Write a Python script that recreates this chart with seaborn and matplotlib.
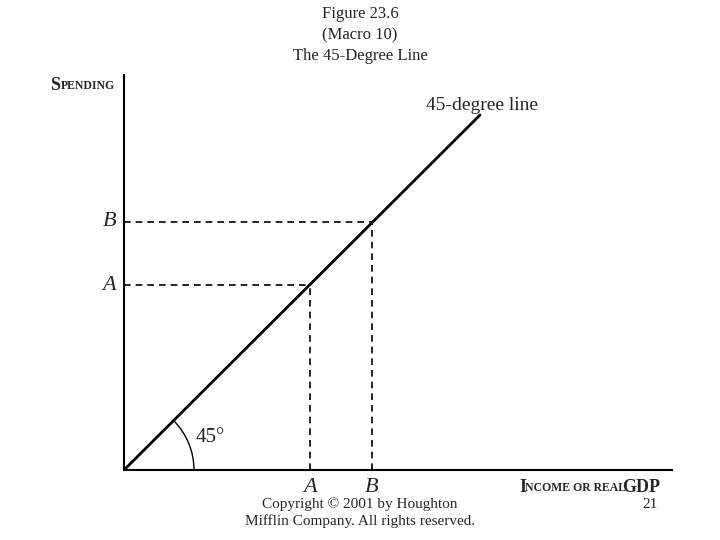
import matplotlib
matplotlib.use("Agg")
import matplotlib.pyplot as plt
import seaborn as sns
import pandas as pd
from matplotlib.patches import Arc

sns.set_theme(style="white")
plt.rcParams['font.family'] = ['Liberation Serif', 'DejaVu Serif']

line_x = [0, 356]
line_y = [0, 355]
point_labels = ["A", "B"]
point_x = [186, 248]
point_y = [185, 248]

fig = plt.figure(figsize=(7.2, 5.4), dpi=100)
ax = fig.add_axes([124/720, 70/540, 548/720, 395/540])
df = pd.DataFrame({"x": line_x, "y": line_y})
sns.lineplot(data=df, x="x", y="y", ax=ax, color="black", lw=2)
ax.set_xlim(0, 548); ax.set_ylim(0, 395)
for s in ["top", "right"]:
    ax.spines[s].set_visible(False)
for s in ["left", "bottom"]:
    ax.spines[s].set_color("black"); ax.spines[s].set_linewidth(1.5)
ax.set_xticks([]); ax.set_yticks([]); ax.set_xlabel(""); ax.set_ylabel("")
for lab, px, py in zip(point_labels, point_x, point_y):
    ax.plot([0, px], [py, py], ls=(0, (4, 3)), color="black", lw=1.2)
    ax.plot([px, px], [0, py], ls=(0, (4, 3)), color="black", lw=1.2)
    ax.text(-8, py, lab, ha="right", va="center", fontsize=16, style="italic")
    ax.text(px, -8, lab, ha="center", va="top", fontsize=16, style="italic")
ax.add_patch(Arc((0, 0), 140, 140, theta1=0, theta2=45, color="black", lw=1))
ax.text(72, 32, "45°", fontsize=15, va="center")
ax.text(302, 365, "45-degree line", fontsize=14, va="center")

fig.text(50/720, 1 - 85/540, "S", fontsize=13, va="center", fontweight="bold")
fig.text(61/720, 1 - 86/540, "PENDING", fontsize=8.5, va="center", fontweight="bold")
fig.text(519/720, 1 - 487/540, "I", fontsize=13, va="center", fontweight="bold")
fig.text(525/720, 1 - 488/540, "NCOME OR REAL", fontsize=8.5, va="center", fontweight="bold")
fig.text(622/720, 1 - 487/540, "GDP", fontsize=13, va="center", fontweight="bold")
for t, yy in [("Figure 23.6", 14), ("(Macro 10)", 35), ("The 45-Degree Line", 56)]:
    fig.text(0.5, 1 - yy/540, t, ha="center", va="center", fontsize=12)
fig.text(360/720, 1 - 504/540, "Copyright © 2001 by Houghton", ha="center", va="center", fontsize=11)
fig.text(360/720, 1 - 521/540, "Mifflin Company. All rights reserved.", ha="center", va="center", fontsize=11)
fig.text(650/720, 1 - 505/540, "21", ha="center", va="center", fontsize=11)
fig.savefig("out.png", dpi=100, facecolor="white")
